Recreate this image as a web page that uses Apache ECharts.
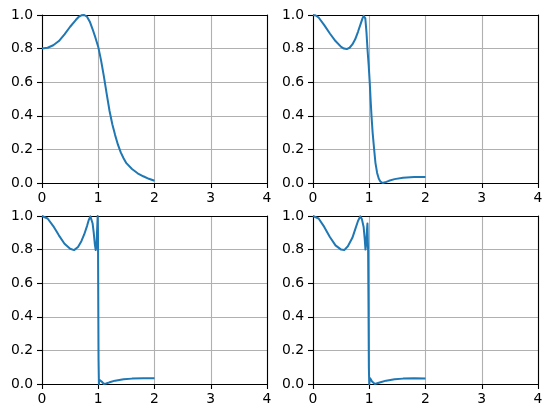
<!DOCTYPE html>
<html>
<head>
<meta charset="utf-8">
<script src="https://cdn.jsdelivr.net/npm/echarts@6/dist/echarts.min.js"></script>
<style>
html,body{margin:0;padding:0;background:#fff;}
#chart{width:552px;height:418px;}
</style>
</head>
<body>
<div id="chart"></div>
<script>
// Tick labels
const xTicks = [0, 1, 2, 3, 4];
const yTicks = [0.0, 0.2, 0.4, 0.6, 0.8, 1.0];

// Panel 1 (top-left)
const x1 = [0, 0.1, 0.2, 0.3, 0.4, 0.5, 0.6, 0.65, 0.7, 0.75, 0.8, 0.85, 0.9, 0.95, 1.0, 1.05, 1.1, 1.15, 1.2, 1.25, 1.3, 1.35, 1.4, 1.45, 1.5, 1.6, 1.7, 1.8, 1.9, 2.0];
const y1 = [0.80, 0.805, 0.82, 0.845, 0.885, 0.93, 0.97, 0.988, 0.998, 1.0, 0.99, 0.96, 0.915, 0.865, 0.81, 0.73, 0.635, 0.53, 0.43, 0.35, 0.285, 0.228, 0.182, 0.147, 0.118, 0.083, 0.058, 0.04, 0.025, 0.013];

// Panel 2 (top-right)
const x2 = [0, 0.05, 0.1, 0.2, 0.3, 0.4, 0.5, 0.55, 0.6, 0.65, 0.7, 0.75, 0.8, 0.85, 0.88, 0.9, 0.915, 0.93, 0.95, 0.97, 0.99, 1.0, 1.01, 1.025, 1.04, 1.06, 1.087, 1.11, 1.14, 1.17, 1.2, 1.24, 1.28, 1.35, 1.45, 1.6, 1.8, 2.0];
const y2 = [1.0, 0.997, 0.985, 0.94, 0.89, 0.845, 0.81, 0.8, 0.797, 0.805, 0.825, 0.855, 0.9, 0.95, 0.98, 0.995, 1.0, 0.98, 0.9, 0.79, 0.7, 0.645, 0.59, 0.49, 0.4, 0.3, 0.2, 0.12, 0.06, 0.025, 0.008, 0.0, 0.004, 0.013, 0.023, 0.031, 0.035, 0.036];

// Panel 3 (bottom-left)
const x3 = [0, 0.1, 0.2, 0.3, 0.4, 0.5, 0.57, 0.64, 0.7, 0.75, 0.8, 0.83, 0.86, 0.88, 0.9, 0.92, 0.94, 0.955, 0.97, 0.98, 0.99, 0.995, 1.0, 1.005, 1.012, 1.02, 1.03, 1.04, 1.06, 1.08, 1.1, 1.115, 1.14, 1.2, 1.3, 1.45, 1.6, 1.8, 2.0];
const y3 = [1.0, 0.985, 0.94, 0.885, 0.835, 0.805, 0.797, 0.815, 0.85, 0.89, 0.94, 0.975, 0.998, 0.99, 0.955, 0.9, 0.83, 0.797, 0.83, 0.92, 1.0, 0.9, 0.5, 0.15, 0.0, 0.025, 0.035, 0.03, 0.015, 0.004, 0.0, 0.0, 0.003, 0.01, 0.02, 0.028, 0.032, 0.034, 0.034];

// Panel 4 (bottom-right)
const x4 = [0, 0.1, 0.2, 0.3, 0.4, 0.5, 0.555, 0.62, 0.7, 0.75, 0.8, 0.84, 0.87, 0.9, 0.92, 0.933, 0.945, 0.96, 0.968, 0.975, 0.98, 0.986, 0.993, 1.0, 1.008, 1.016, 1.03, 1.05, 1.075, 1.1, 1.13, 1.2, 1.3, 1.45, 1.6, 1.8, 2.0];
const y4 = [1.0, 0.985, 0.935, 0.875, 0.825, 0.8, 0.797, 0.82, 0.87, 0.92, 0.97, 0.998, 0.98, 0.935, 0.86, 0.8, 0.83, 0.92, 0.955, 0.85, 0.79, 0.5, 0.1, 0.0, 0.02, 0.035, 0.028, 0.015, 0.004, 0.0, 0.003, 0.01, 0.02, 0.028, 0.032, 0.034, 0.033];

const panels = [[x1, y1], [x2, y2], [x3, y3], [x4, y4]];
const grids = [
  {left: 42, top: 15, width: 225, height: 168},
  {left: 313, top: 15, width: 225, height: 168},
  {left: 42, top: 216, width: 225, height: 168},
  {left: 313, top: 216, width: 225, height: 168}
];

const font = {fontFamily: 'DejaVu Sans', fontSize: 13.9, color: '#000'};
const axLine = {show: true, onZero: false, lineStyle: {color: '#000', width: 1.1}};
const grid = grids.map(g => Object.assign({containLabel: false}, g));
const xAxis = [], yAxis = [], series = [];
panels.forEach((p, i) => {
  xAxis.push({
    type: 'value', gridIndex: i, min: xTicks[0], max: xTicks[xTicks.length - 1], interval: 1,
    position: 'bottom', axisLine: axLine,
    axisTick: {show: true, inside: false, length: 5, lineStyle: {color: '#000', width: 1.1}},
    axisLabel: Object.assign({margin: 8, formatter: v => String(v)}, font),
    splitLine: {show: true, lineStyle: {color: '#b0b0b0', width: 1.1}}
  });
  xAxis.push({
    type: 'value', gridIndex: i, min: xTicks[0], max: xTicks[xTicks.length - 1], position: 'top',
    axisLine: axLine, axisTick: {show: false}, axisLabel: {show: false}, splitLine: {show: false}
  });
  yAxis.push({
    type: 'value', gridIndex: i, min: yTicks[0], max: yTicks[yTicks.length - 1], interval: 0.2,
    position: 'left', axisLine: axLine,
    axisTick: {show: true, inside: false, length: 5, lineStyle: {color: '#000', width: 1.1}},
    axisLabel: Object.assign({margin: 9, formatter: v => v.toFixed(1)}, font),
    splitLine: {show: true, lineStyle: {color: '#b0b0b0', width: 1.1}}
  });
  yAxis.push({
    type: 'value', gridIndex: i, min: yTicks[0], max: yTicks[yTicks.length - 1], position: 'right',
    axisLine: axLine, axisTick: {show: false}, axisLabel: {show: false}, splitLine: {show: false}
  });
  series.push({
    type: 'line', xAxisIndex: 2 * i, yAxisIndex: 2 * i,
    data: p[0].map((x, k) => [x, p[1][k]]),
    showSymbol: false, symbol: 'none', smooth: false, clip: true,
    lineStyle: {color: '#1f77b4', width: 2, join: 'round'}
  });
});

const chart = echarts.init(document.getElementById('chart'), null, {renderer: 'canvas'});
chart.setOption({animation: false, backgroundColor: '#fff', grid, xAxis, yAxis, series});
</script>
</body>
</html>
